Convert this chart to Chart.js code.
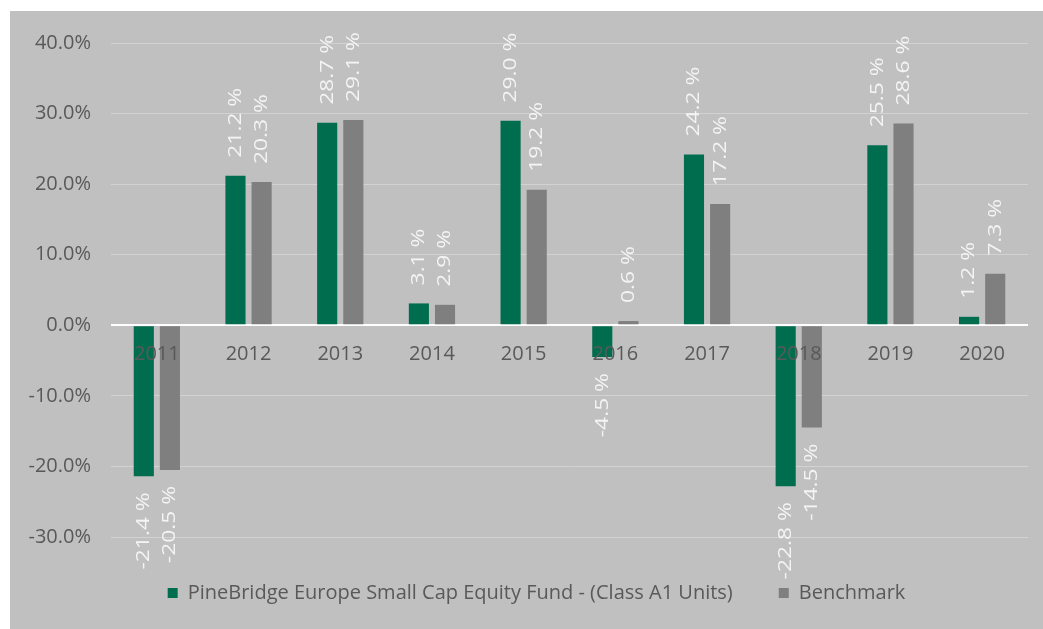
<!DOCTYPE html>
<html>
<head>
<meta charset="utf-8">
<script src="https://cdn.jsdelivr.net/npm/chart.js@4.4.1/dist/chart.umd.min.js"></script>
<style>
  html, body { margin: 0; padding: 0; background: #ffffff; }
  #wrap { width: 1043px; height: 629px; }
</style>
</head>
<body>
<div id="wrap"><canvas id="grafico"></canvas></div>
<script>
// Anos (categorias)
const anos = ['2011', '2012', '2013', '2014', '2015', '2016', '2017', '2018', '2019', '2020'];

// Retornos anuais (%)
const fundo = [-21.4, 21.2, 28.7, 3.1, 29.0, -4.5, 24.2, -22.8, 25.5, 1.2];
const benchmark = [-20.5, 20.3, 29.1, 2.9, 19.2, 0.6, 17.2, -14.5, 28.6, 7.3];

// Eixo Y
const yMin = -30;
const yMax = 40;
const yStep = 10;

const fonte = '"Open Sans", sans-serif';

// Fundo cinza do gráfico
const fundoCinza = {
    id: 'fundoCinza',
    beforeDraw(chart) {
        const c = chart.ctx;
        c.save();
        c.fillStyle = '#c0c0c0';
        c.fillRect(10, 11, chart.width - 10, chart.height - 11);
        c.restore();
    }
};

// Desloca a legenda um pouco para a direita
const ajusteLegenda = {
    id: 'ajusteLegenda',
    afterLayout(chart) {
        if (chart.legend) chart.legend.left += 34;
    }
};

// Rótulos de valor girados na ponta das barras
const rotulos = {
    id: 'rotulos',
    afterDatasetsDraw(chart) {
        const c = chart.ctx;
        c.save();
        c.fillStyle = '#f4f4f4';
        c.font = '19px ' + fonte;
        c.textBaseline = 'middle';
        chart.data.datasets.forEach((ds, i) => {
            const meta = chart.getDatasetMeta(i);
            meta.data.forEach((bar, j) => {
                const v = ds.data[j];
                const txt = v.toFixed(1) + ' %';
                c.save();
                if (v >= 0) {
                    c.translate(bar.x, bar.y - 18);
                    c.textAlign = 'left';
                } else {
                    c.translate(bar.x, bar.y + 16);
                    c.textAlign = 'right';
                }
                c.rotate(-Math.PI / 2);
                c.scale(1.2, 1); // texto esticado no sentido vertical, como na imagem
                c.fillText(txt, 0, 0);
                c.restore();
            });
        });
        c.restore();
    }
};

const config = {
    type: 'bar',
    data: {
        labels: anos,
        datasets: [
            {
                label: 'PineBridge Europe Small Cap Equity Fund - (Class A1 Units)',
                data: fundo,
                backgroundColor: '#006e4e',
                barPercentage: 0.77,
                categoryPercentage: 0.57,
            },
            {
                label: 'Benchmark',
                data: benchmark,
                backgroundColor: '#7f7f7f',
                barPercentage: 0.77,
                categoryPercentage: 0.57,
            },
        ],
    },
    options: {
        responsive: true,
        maintainAspectRatio: false,
        animation: false,
        layout: { padding: { left: 11, right: 15, top: 43, bottom: 16 } },
        plugins: {
            legend: {
                position: 'bottom',
                labels: {
                    color: '#595959',
                    boxWidth: 10,
                    boxHeight: 10,
                    padding: 46,
                    font: { size: 20, family: fonte },
                },
            },
            tooltip: { enabled: false },
        },
        scales: {
            x: {
                position: { y: 0 },
                grid: { display: false, drawTicks: false },
                border: { display: false },
                ticks: {
                    z: 1, // rótulos dos anos por cima das barras
                    color: '#595959',
                    padding: 17,
                    font: { size: 20, family: fonte },
                },
            },
            y: {
                min: yMin,
                max: yMax,
                afterFit(scale) { scale.width = 100; },
                grid: {
                    drawTicks: false,
                    color: (ctx) => ctx.tick && ctx.tick.value === 0 ? '#ffffff' : '#d2d2d2',
                    lineWidth: (ctx) => ctx.tick && ctx.tick.value === 0 ? 2 : 1,
                },
                border: { display: false },
                ticks: {
                    stepSize: yStep,
                    color: '#595959',
                    padding: 20,
                    font: { size: 20, family: fonte },
                    callback: (v) => v.toFixed(1) + '%',
                },
            },
        },
    },
    plugins: [fundoCinza, ajusteLegenda, rotulos],
};

new Chart(document.getElementById('grafico').getContext('2d'), config);
</script>
</body>
</html>
